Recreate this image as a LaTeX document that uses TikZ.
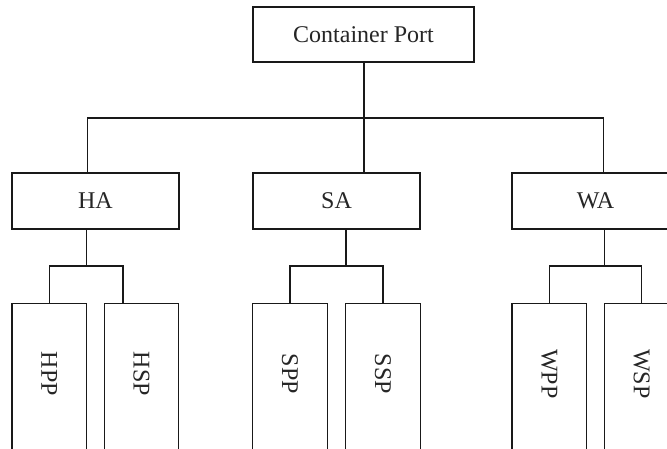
\documentclass[tikz,border=0pt]{standalone}
\usepackage{fontspec}
\setmainfont{Liberation Serif}
\begin{document}
\begin{tikzpicture}[x=0.75pt,y=-0.75pt,
  wire/.style={line width=1pt, draw=black!90},
  box/.style={draw=black!90, line width=1pt, inner sep=0pt, fill=white,
              font=\fontsize{18}{21}\selectfont, text=black!85},
  rootbox/.style={box, minimum width=165.75pt, minimum height=41.25pt},
  areabox/.style={box, minimum width=125.25pt, minimum height=42pt},
  leafbox/.style={box, anchor=north, minimum width=55.9pt, minimum height=125.25pt},
  leaftext/.style={rotate=-90, inner sep=0pt, font=\fontsize{18}{21}\selectfont, text=black!85}]
  \useasboundingbox (0,0) rectangle (667,449);
  \clip (0,0) rectangle (667,449);

  % top level
  \node[rootbox] (root) at (363.5,34.5) {Container Port};

  % areas
  \node[areabox] (ha) at (95.5,201) {HA};
  \node[areabox] (sa) at (336.5,201) {SA};
  \node[areabox] (wa) at (595.5,201) {WA};

  % leaf boxes
  \node[leafbox] (hpp) at (49.25,303) {};
  \node[leafbox] (hsp) at (141.5,303) {};
  \node[leafbox] (spp) at (290,303) {};
  \node[leafbox] (ssp) at (383,303) {};
  \node[leafbox] (wpp) at (549.25,303) {};
  \node[leafbox] (wsp) at (641.75,303) {};

  % vertical labels inside the leaves
  \node[leaftext] (hppt) at ([yshift=-53.25pt]hpp.north) {HPP};
  \node[leaftext] (hspt) at ([yshift=-53.25pt]hsp.north) {HSP};
  \node[leaftext] (sppt) at ([yshift=-53.25pt]spp.north) {SPP};
  \node[leaftext] (sspt) at ([yshift=-53.25pt]ssp.north) {SSP};
  \node[leaftext] (wppt) at ([yshift=-53.25pt]wpp.north) {WPP};
  \node[leaftext] (wspt) at ([yshift=-53.25pt]wsp.north) {WSP};

  % junction points
  \coordinate (spine) at (364,118);
  \coordinate (hj) at (86.5,266);
  \coordinate (hr) at (123,266);
  \coordinate (sj) at (346,266);
  \coordinate (wj) at (604.5,266);

  % top-level connectors
  \draw[wire] (root.south -| spine) -- (sa.north -| spine);
  \draw[wire] (ha.north -| hpp.east) |- (spine) -| (wa.north -| wsp.west);

  % area connectors
  \draw[wire] (ha.south -| hj) -- (hj);
  \draw[wire] (hpp.north) |- (hr) -- (hsp.north -| hr);
  \draw[wire] (sa.south -| sj) -- (sj);
  \draw[wire] (spp.north) |- (sj) -| (ssp.north);
  \draw[wire] (wa.south -| wj) -- (wj);
  \draw[wire] (wpp.north) |- (wj) -| (wsp.north);
\end{tikzpicture}
\end{document}
